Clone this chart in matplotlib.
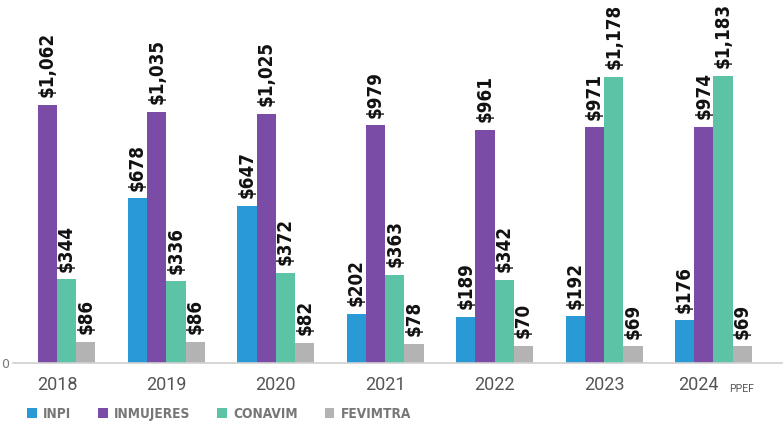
import matplotlib
matplotlib.use("Agg")
import matplotlib.pyplot as plt
import matplotlib.transforms as mtransforms
from matplotlib.patches import Patch
import numpy as np

years = ["2018", "2019", "2020", "2021", "2022", "2023", "2024"]
series_names = ["INPI", "INMUJERES", "CONAVIM", "FEVIMTRA"]
inpi = [0, 678, 647, 202, 189, 192, 176]
inmujeres = [1062, 1035, 1025, 979, 961, 971, 974]
conavim = [344, 336, 372, 363, 342, 1178, 1183]
fevimtra = [86, 86, 82, 78, 70, 69, 69]
colors = ["#2a9ad6", "#7a4ca6", "#5cc3a6", "#b3b3b3"]

W, H = 783, 426
fig = plt.figure(figsize=(W / 100, H / 100), dpi=100)
ax = fig.add_axes([13 / W, 1 - 363 / H, 1 - 13 / W, 363 / H])

x = np.arange(len(years))
bw = 0.176
data = [inpi, inmujeres, conavim, fevimtra]
for k, (vals, col) in enumerate(zip(data, colors)):
    pos = x + (k - 1.5) * bw
    for xi, v in zip(pos, vals):
        if v <= 0:
            continue
        ax.bar(xi, v, width=bw, color=col, linewidth=0)
        ax.annotate(f"${v:,}", (xi, v), xytext=(0, 5.5), textcoords="offset points",
                    rotation=90, ha="center", va="bottom", fontsize=13.5,
                    fontweight="bold", fontstretch="condensed", color="#111111",
                    family="DejaVu Sans")

ax.set_xlim(-0.402, 6.636)
ax.set_ylim(0, 1495)
for s in ["top", "right", "left"]:
    ax.spines[s].set_visible(False)
ax.spines["bottom"].set_color("#d0d0d0")
ax.spines["bottom"].set_linewidth(1.2)

ax.set_xticks(x)
ax.set_xticklabels(years, fontsize=13, color="#555555", family="Roboto")
ax.tick_params(axis="x", length=0, pad=9.5)
ax.set_yticks([0])
ax.set_yticklabels(["0"], fontsize=9, color="#777777")
ax.tick_params(axis="y", length=0, pad=3)

# shift 2024 label and add small PPEF suffix
lab = ax.get_xticklabels()[-1]
lab.set_transform(lab.get_transform() + mtransforms.ScaledTranslation(-11 / 72, 0, fig.dpi_scale_trans))
ax.annotate("PPEF", xy=(x[-1], 0), xycoords=("data", "axes fraction"),
            xytext=(11, -21), textcoords="offset points", fontsize=7.5,
            color="#555555", family="Roboto", ha="left", va="baseline",
            annotation_clip=False)

handles = [Patch(facecolor=c, edgecolor="none") for c in colors]
leg = fig.legend(handles, series_names, loc="center left", bbox_to_anchor=(27 / W, 1 - 414 / H),
                 ncol=4, frameon=False, handlelength=0.7, handleheight=0.7,
                 handletextpad=0.45, columnspacing=2.0, borderaxespad=0, borderpad=0,
                 prop={"family": "DejaVu Sans", "weight": "bold", "stretch": "condensed", "size": 9.8})
for t in leg.get_texts():
    t.set_color("#777777")

fig.savefig("out.png", dpi=100, facecolor="white")
